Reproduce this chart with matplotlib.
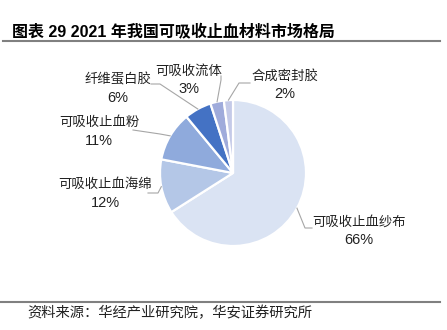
import numpy as np
import matplotlib.pyplot as plt

plt.rcParams['font.family'] = ['Liberation Sans', 'Noto Sans CJK SC', 'DejaVu Sans']

# clockwise from 12 o'clock
names = ['可吸收止血纱布', '可吸收止血海绵', '可吸收止血粉', '纤维蛋白胶', '可吸收流体', '合成密封胶']
shares = [66, 12, 11, 6, 3, 2]
colors = ['#DAE3F3', '#B4C7E7', '#8FAADC', '#4472C4', '#9FABDB', '#C4CAE8']

W, H = 447, 330
cx, cy, r = 233, 173, 73   # pie centre / radius in pixels


def px(x, y):
    # pixel position -> pie data units (radius = 1)
    return (x - cx) / r, (cy - y) / r


# leader elbow, leader end and label centre, in pixels
label_layout = [
    ((305, 228), (312, 228), (359, 222)),
    ((158, 193), (148, 193), (105, 185)),
    ((160, 134), (133, 130), (99, 123)),
    ((160, 84), (151, 84), (118, 80)),
    ((221, 80), (221, 76), (189, 71)),
    ((239, 83), (250, 83), (285, 76)),
]

fig = plt.figure(figsize=(W / 100, H / 100), dpi=100)
ax = fig.add_axes([(cx - r) / W, (H - cy - r) / H, 2 * r / W, 2 * r / H])
ax.pie(shares, colors=colors, startangle=90, counterclock=False,
       wedgeprops=dict(edgecolor='white', linewidth=1.6))
ax.set_xlim(-1, 1)
ax.set_ylim(-1, 1)
ax.set_aspect('equal')

start = 0
for name, v, (elbow, end, txt) in zip(names, shares, label_layout):
    mid = np.deg2rad((start + v / 2) / 100 * 360)
    start += v
    x0, y0 = np.sin(mid), np.cos(mid)
    ex, ey = px(*elbow)
    nx, ny = px(*end)
    ax.plot([x0, ex, nx], [y0, ey, ny], color='#A6A6A6', lw=0.8, clip_on=False)
    tx, ty = px(*txt)
    ax.text(tx, ty, name, ha='center', va='center', fontsize=9.6, color='#222222')
    ax.text(tx, ty - 18 / r, f'{v}%', ha='center', va='center', fontsize=10.5, color='#222222')

fig.text(12 / W, 1 - 31 / H, '图表 29 2021 年我国可吸收止血材料市场格局',
         fontsize=11.5, fontweight='bold', ha='left', va='center')
fig.add_artist(plt.Line2D([3 / W, 440 / W], [1 - 41 / H, 1 - 41 / H],
                          color='#808080', lw=1.5))
fig.add_artist(plt.Line2D([0, 440 / W], [1 - 301.5 / H, 1 - 301.5 / H],
                          color='#808080', lw=1.5))
fig.text(27 / W, 1 - 313 / H, '资料来源：华经产业研究院，华安证券研究所',
         fontsize=10.3, ha='left', va='center', color='#222222')

fig.savefig('out.png', dpi=100)
